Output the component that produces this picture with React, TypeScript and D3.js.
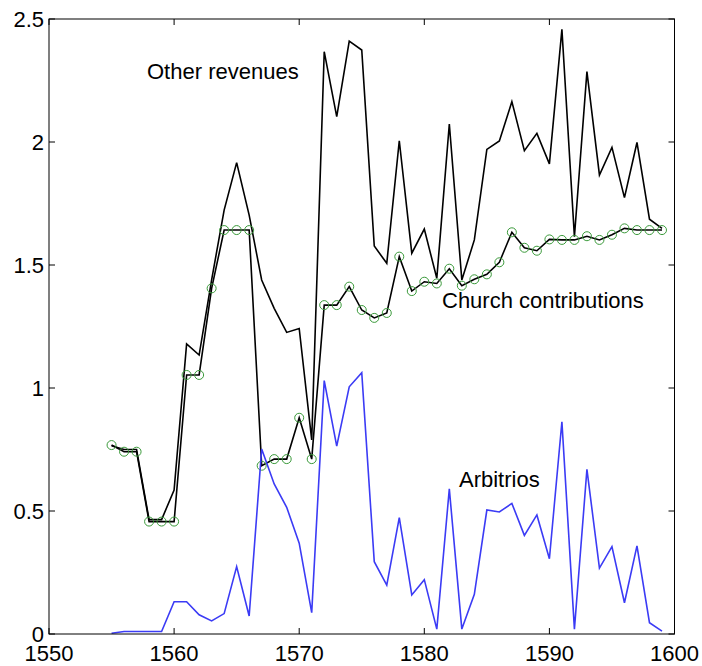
import React from "react";
import * as d3 from "d3";

const years = [1555,1556,1557,1558,1559,1560,1561,1562,1563,1564,1565,1566,1567,1568,1569,1570,1571,1572,1573,1574,1575,1576,1577,1578,1579,1580,1581,1582,1583,1584,1585,1586,1587,1588,1589,1590,1591,1592,1593,1594,1595,1596,1597,1598,1599];

const otherRevenues = [0.765,0.75,0.75,0.465,0.465,0.585,1.179,1.134,1.44,1.723,1.916,1.703,1.439,1.324,1.226,1.242,0.789,2.367,2.103,2.41,2.374,1.577,1.507,2.005,1.548,1.646,1.446,2.073,1.439,1.602,1.97,2.004,2.164,1.965,2.035,1.911,2.458,1.615,2.286,1.866,1.978,1.774,1.998,1.686,1.649];

const churchContributions = [0.768,0.741,0.741,0.457,0.457,0.457,1.053,1.053,1.405,1.642,1.642,1.642,0.684,0.711,0.711,0.879,0.711,1.337,1.337,1.412,1.317,1.285,1.305,1.534,1.394,1.432,1.425,1.485,1.416,1.442,1.462,1.511,1.633,1.57,1.558,1.604,1.602,1.602,1.617,1.602,1.623,1.649,1.642,1.642,1.642];

const arbitrios = [0.003,0.01,0.01,0.01,0.01,0.131,0.131,0.078,0.053,0.083,0.274,0.073,0.752,0.61,0.515,0.369,0.087,1.03,0.764,1.005,1.062,0.294,0.199,0.473,0.159,0.221,0.02,0.59,0.02,0.161,0.504,0.496,0.531,0.401,0.484,0.306,0.863,0.02,0.669,0.268,0.355,0.127,0.358,0.046,0.012];

const xTicks = [1550, 1560, 1570, 1580, 1590, 1600];
const yTicks = [0, 0.5, 1, 1.5, 2, 2.5];

const W = 702, H = 666;
const FONT = "'Liberation Sans', Arial, Helvetica, sans-serif";

export default function App() {
  const x = d3.scaleLinear().domain([1550, 1600]).range([49, 674.5]);
  const y = d3.scaleLinear().domain([0, 2.5]).range([634, 19]);
  const line = d3.line<[number, number]>().x(d => x(d[0])).y(d => y(d[1]));
  const other = years.map((yr, i) => [yr, otherRevenues[i]] as [number, number]);
  const church = years.map((yr, i) => [yr, churchContributions[i]] as [number, number]);
  const arb = years.map((yr, i) => [yr, arbitrios[i]] as [number, number]);
  const [x0, x1] = x.range();
  const [y0, y1] = y.range();
  const tl = 6;
  return (
    <svg width={W} height={H} style={{ position: "absolute", left: 0, top: 0, background: "#fff" }} fontFamily={FONT}>
      <rect x={0} y={0} width={W} height={H} fill="#fff" />
      <path d={line(other) ?? ""} fill="none" stroke="#000" strokeWidth={1.6} strokeLinejoin="miter" />
      <path d={line(church) ?? ""} fill="none" stroke="#000" strokeWidth={1.6} />
      {church.map((d, i) => (
        <circle key={i} cx={x(d[0])} cy={y(d[1])} r={4.5} fill="none" stroke="#3a9a3a" strokeWidth={1} />
      ))}
      <path d={line(arb) ?? ""} fill="none" stroke="#3b3bf5" strokeWidth={1.6} />
      {/* axes box */}
      <rect x={x0} y={y1} width={x1 - x0} height={y0 - y1} fill="none" stroke="#000" strokeWidth={1} />
      {xTicks.map(t => (
        <g key={"x" + t}>
          <line x1={x(t)} x2={x(t)} y1={y0} y2={y0 - tl} stroke="#000" />
          <line x1={x(t)} x2={x(t)} y1={y1} y2={y1 + tl} stroke="#000" />
          <text x={x(t)} y={661} textAnchor="middle" fontSize={22} fill="#000">{t}</text>
        </g>
      ))}
      {yTicks.map(t => (
        <g key={"y" + t}>
          <line x1={x0} x2={x0 + tl} y1={y(t)} y2={y(t)} stroke="#000" />
          <line x1={x1} x2={x1 - tl} y1={y(t)} y2={y(t)} stroke="#000" />
          <text x={44} y={y(t)} dy="0.36em" textAnchor="end" fontSize={22} fill="#000">{String(t)}</text>
        </g>
      ))}
      <text x={147} y={79} fontSize={22} fill="#000">Other revenues</text>
      <text x={442} y={308} fontSize={22} fill="#000">Church contributions</text>
      <text x={459} y={487} fontSize={22} fill="#000">Arbitrios</text>
    </svg>
  );
}
